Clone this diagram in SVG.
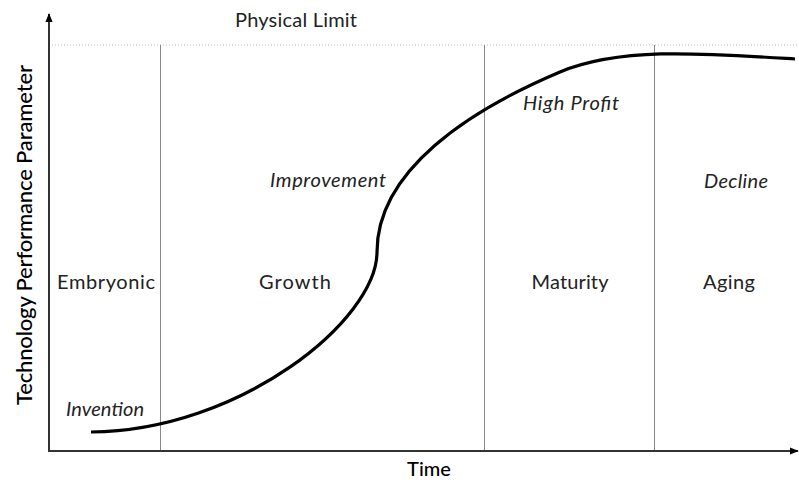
<svg xmlns="http://www.w3.org/2000/svg" width="799" height="482" viewBox="0 0 799 482">
<style>
.lbl{font-family:Lato,"Open Sans","Liberation Sans",sans-serif;font-size:20px;fill:#222;text-anchor:middle}
.it{font-style:italic}
.ttl{font-size:22px;fill:#000;font-weight:500}
.div{stroke:#888;stroke-width:1}
.ax{stroke:#333;stroke-width:2;fill:none}
</style>
<defs>
<marker id="ah" viewBox="0 0 10 10" refX="9" refY="5" markerWidth="9" markerHeight="9" orient="auto" markerUnits="userSpaceOnUse">
<path d="M0,1 L10,5 L0,9 z" fill="#000"/>
</marker>
</defs>
<rect width="799" height="482" fill="#fff"/>
<g id="limit">
<line x1="52" y1="45" x2="799" y2="45" stroke="#bbb" stroke-width="1" stroke-dasharray="1,2"/>
<text class="lbl" x="296" y="27" textLength="122">Physical Limit</text>
</g>
<g id="dividers">
<line class="div" x1="160.5" y1="45" x2="160.5" y2="451"/>
<line class="div" x1="484.5" y1="45" x2="484.5" y2="451"/>
<line class="div" x1="654.5" y1="45" x2="654.5" y2="451"/>
</g>
<g id="axes">
<line class="ax" x1="49" y1="452" x2="49" y2="14" marker-end="url(#ah)" stroke="#000"/>
<line class="ax" x1="48" y1="451" x2="798" y2="451" marker-end="url(#ah)"/>
<text class="lbl ttl" x="429" y="476" style="font-size:20px">Time</text>
<text class="lbl ttl" transform="translate(32,235) rotate(-90)" textLength="340">Technology Performance Parameter</text>
</g>
<g id="curve">
<path d="M91,432 C240,431 377,320 377,252 C377,170 470,110 560,72 C620,47 700,53 795,59" fill="none" stroke="#000" stroke-width="3.2"/>
</g>
<g id="phases">
<text class="lbl" x="106" y="289" textLength="98">Embryonic</text>
<text class="lbl" x="295" y="289" textLength="72">Growth</text>
<text class="lbl" x="570" y="289" textLength="77">Maturity</text>
<text class="lbl" x="729" y="289" textLength="52">Aging</text>
</g>
<g id="annotations">
<text class="lbl it" x="105" y="416" textLength="78">Invention</text>
<text class="lbl it" x="328" y="187" textLength="116">Improvement</text>
<text class="lbl it" x="571" y="110" textLength="96">High Profit</text>
<text class="lbl it" x="736" y="188" textLength="64">Decline</text>
</g>
</svg>
